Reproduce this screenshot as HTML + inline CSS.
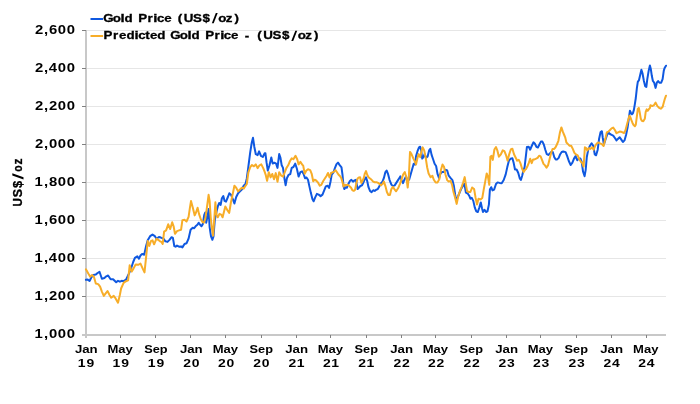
<!DOCTYPE html><html><head><meta charset="utf-8"><style>html,body{margin:0;padding:0;background:#fff;}svg{display:block;will-change:transform;}text{font-family:"Liberation Sans", sans-serif;font-weight:bold;}</style></head><body>
<svg width="700" height="404" viewBox="0 0 700 404">
<rect width="700" height="404" fill="#fff"/>
<rect x="87" y="30" width="579" height="1" fill="#e6e6e6"/>
<rect x="87" y="68" width="579" height="1" fill="#e6e6e6"/>
<rect x="87" y="106" width="579" height="1" fill="#e6e6e6"/>
<rect x="87" y="144" width="579" height="1" fill="#e6e6e6"/>
<rect x="87" y="182" width="579" height="1" fill="#e6e6e6"/>
<rect x="87" y="220" width="579" height="1" fill="#e6e6e6"/>
<rect x="87" y="258" width="579" height="1" fill="#e6e6e6"/>
<rect x="87" y="296" width="579" height="1" fill="#e6e6e6"/>
<rect x="85" y="30" width="2" height="306" fill="#c8c8c8"/>
<rect x="85" y="334" width="581" height="2" fill="#c8c8c8"/>
<rect x="82" y="30" width="4" height="1" fill="#808080"/>
<rect x="82" y="68" width="4" height="1" fill="#808080"/>
<rect x="82" y="106" width="4" height="1" fill="#808080"/>
<rect x="82" y="144" width="4" height="1" fill="#808080"/>
<rect x="82" y="182" width="4" height="1" fill="#808080"/>
<rect x="82" y="220" width="4" height="1" fill="#808080"/>
<rect x="82" y="258" width="4" height="1" fill="#808080"/>
<rect x="82" y="296" width="4" height="1" fill="#808080"/>
<rect x="82" y="334" width="3" height="2" fill="#c8c8c8"/>
<rect x="85" y="336" width="2" height="2" fill="#c8c8c8"/>
<rect x="120" y="335" width="1" height="3" fill="#808080"/>
<rect x="155" y="335" width="1" height="3" fill="#808080"/>
<rect x="190" y="335" width="1" height="3" fill="#808080"/>
<rect x="225" y="335" width="1" height="3" fill="#808080"/>
<rect x="261" y="335" width="1" height="3" fill="#808080"/>
<rect x="296" y="335" width="1" height="3" fill="#808080"/>
<rect x="330" y="335" width="1" height="3" fill="#808080"/>
<rect x="366" y="335" width="1" height="3" fill="#808080"/>
<rect x="401" y="335" width="1" height="3" fill="#808080"/>
<rect x="435" y="335" width="1" height="3" fill="#808080"/>
<rect x="471" y="335" width="1" height="3" fill="#808080"/>
<rect x="506" y="335" width="1" height="3" fill="#808080"/>
<rect x="540" y="335" width="1" height="3" fill="#808080"/>
<rect x="576" y="335" width="1" height="3" fill="#808080"/>
<rect x="611" y="335" width="1" height="3" fill="#808080"/>
<rect x="646" y="335" width="1" height="3" fill="#808080"/>
<path d="M85.9,279.8 L87.7,279.6 L89.6,281.0 L91.4,277.3 L93.3,274.9 L95.8,274.6 L97.6,273.0 L99.5,271.8 L101.9,278.8 L104.4,278.0 L106.3,276.3 L108.1,275.5 L110.6,279.2 L113.1,279.2 L116.2,282.3 L118.0,280.8 L119.9,281.7 L121.7,280.8 L123.6,281.2 L126.0,279.6 L128.4,274.8 L130.8,269.2 L133.2,262.0 L134.9,257.9 L137.3,256.3 L138.9,258.7 L140.5,255.5 L142.1,253.9 L144.2,254.7 L146.1,245.9 L147.7,240.3 L150.1,236.2 L152.5,234.6 L154.9,236.2 L156.5,238.7 L158.9,237.0 L160.0,237.2 L161.4,237.9 L163.4,238.5 L165.4,241.3 L167.5,241.9 L169.5,239.9 L171.6,237.2 L172.9,237.9 L174.3,246.0 L175.6,246.7 L177.0,245.6 L179.0,246.7 L181.1,246.4 L182.4,247.4 L184.5,244.0 L186.5,243.3 L188.6,238.5 L190.6,229.7 L192.7,227.7 L194.0,228.3 L195.6,226.3 L197.4,224.8 L198.7,222.7 L200.1,224.8 L201.5,226.2 L202.8,224.1 L204.2,215.2 L205.3,212.5 L206.2,222.7 L207.6,215.9 L208.6,209.1 L209.6,226.8 L211.0,236.4 L212.4,239.8 L213.5,236.4 L214.8,220.0 L216.5,211.8 L217.8,206.4 L219.2,203.0 L220.6,205.0 L221.9,198.2 L223.3,196.1 L224.6,200.9 L226.0,201.6 L227.9,197.0 L229.3,193.3 L231.2,195.1 L233.1,199.8 L234.4,203.5 L236.2,197.0 L238.1,193.3 L240.0,191.4 L241.8,189.5 L243.7,185.8 L245.5,184.0 L246.8,178.4 L248.3,167.2 L250.2,152.3 L251.7,143.0 L253.0,137.8 L254.3,146.7 L255.8,154.2 L257.6,155.1 L259.1,151.4 L261.0,156.0 L262.8,157.0 L264.7,153.3 L265.4,153.2 L266.6,162.7 L267.8,170.5 L269.5,165.3 L271.3,157.5 L272.7,163.6 L274.4,162.7 L276.1,163.6 L277.5,167.9 L279.2,154.0 L280.4,157.5 L281.7,165.3 L283.0,167.9 L284.4,178.3 L285.6,185.2 L286.9,178.3 L288.6,174.8 L290.3,174.0 L291.7,167.9 L293.4,167.0 L295.2,163.6 L296.9,168.8 L298.6,176.6 L300.4,172.2 L302.1,171.4 L303.5,173.8 L305.0,178.3 L306.5,177.5 L308.0,179.7 L309.4,186.4 L310.9,193.1 L312.4,199.1 L313.6,201.3 L315.1,197.6 L316.9,193.9 L318.7,194.6 L320.6,196.1 L322.5,194.6 L324.3,190.1 L325.8,186.4 L327.6,185.7 L329.1,187.9 L330.6,181.2 L331.7,174.5 L333.5,172.3 L335.0,167.8 L336.5,164.1 L338.0,162.6 L339.5,164.9 L341.5,167.4 L342.5,174.8 L343.5,186.0 L344.3,189.1 L345.6,187.2 L346.8,187.8 L348.0,184.7 L349.9,181.0 L351.4,179.8 L353.0,181.6 L354.6,180.4 L355.9,179.8 L356.7,184.1 L357.6,189.1 L358.8,187.8 L360.4,186.0 L362.0,185.3 L363.5,182.2 L364.8,179.1 L366.0,177.3 L367.2,181.0 L368.5,187.2 L370.0,190.9 L371.6,192.2 L373.2,190.3 L374.7,190.9 L376.2,189.7 L377.8,189.1 L379.5,186.1 L381.0,183.1 L382.5,181.6 L383.9,177.9 L385.4,172.0 L386.6,170.5 L388.1,174.2 L389.6,180.1 L391.4,184.6 L392.9,186.1 L394.7,185.4 L396.6,182.4 L398.5,179.4 L400.3,176.4 L401.5,180.1 L403.0,183.1 L404.5,179.4 L406.0,176.4 L407.4,180.9 L409.2,179.4 L410.7,174.2 L412.2,169.0 L413.7,163.8 L415.2,164.5 L416.0,156.4 L417.5,151.2 L419.0,147.4 L420.2,146.7 L421.2,150.4 L422.2,158.6 L423.4,157.1 L424.6,154.1 L426.1,157.8 L427.6,156.4 L429.1,150.4 L430.3,148.9 L431.6,154.9 L433.1,159.3 L434.6,163.8 L436.1,166.0 L437.6,174.2 L439.0,177.9 L440.5,173.5 L442.0,172.0 L444.0,172.0 L445.4,169.7 L447.2,170.5 L448.7,175.7 L450.5,177.9 L452.4,180.1 L453.9,186.1 L455.2,195.0 L456.2,200.1 L457.7,197.2 L459.2,193.5 L461.1,189.0 L462.9,186.0 L464.4,183.8 L465.9,192.7 L467.7,193.5 L469.2,195.7 L470.4,198.7 L471.8,197.9 L473.3,200.9 L474.8,207.6 L476.3,211.3 L477.8,212.0 L479.3,207.6 L480.8,202.4 L482.0,208.3 L483.0,212.0 L484.5,209.8 L486.0,212.0 L487.5,211.3 L488.9,204.6 L489.9,189.6 L491.2,187.2 L492.5,190.4 L494.1,189.6 L496.0,184.0 L497.6,182.4 L499.6,182.9 L501.7,183.2 L503.7,180.0 L505.7,174.4 L507.3,167.1 L508.9,160.7 L510.5,158.8 L512.4,158.3 L513.7,163.1 L515.0,169.5 L516.6,169.5 L518.2,172.8 L519.8,178.4 L520.9,180.0 L522.1,176.0 L523.3,171.1 L524.6,167.1 L525.9,155.9 L526.9,147.0 L528.7,146.8 L530.2,149.7 L531.7,146.0 L533.4,142.3 L534.9,143.8 L536.4,146.8 L537.9,147.5 L539.4,144.5 L540.9,141.6 L542.4,141.6 L543.8,144.5 L545.3,149.7 L546.8,154.2 L548.3,154.9 L549.8,153.5 L551.3,152.0 L552.8,152.0 L554.3,157.2 L555.7,159.4 L557.2,159.4 L558.7,157.9 L560.2,154.2 L561.7,152.0 L563.2,151.5 L565.6,152.1 L567.2,156.1 L568.8,161.0 L570.7,165.0 L572.4,162.6 L574.0,158.6 L575.6,156.1 L577.2,160.2 L578.8,158.6 L580.4,158.6 L581.7,161.8 L583.0,171.4 L584.6,176.2 L585.7,169.8 L586.8,157.0 L588.4,148.9 L590.0,145.7 L591.6,143.3 L593.2,145.7 L594.8,154.5 L596.1,155.3 L597.7,149.7 L599.0,139.3 L600.6,132.0 L601.9,131.2 L602.8,138.0 L603.9,144.4 L605.2,140.4 L606.8,135.6 L608.4,132.4 L610.0,134.0 L611.6,134.8 L613.2,135.6 L614.9,138.0 L616.5,140.4 L618.1,138.8 L619.7,137.2 L621.3,139.6 L622.9,142.0 L624.5,140.4 L626.1,134.8 L627.7,126.7 L628.9,117.8 L629.9,110.8 L630.9,112.8 L631.9,114.3 L632.9,113.3 L633.9,109.9 L634.9,103.9 L635.8,98.0 L636.9,87.9 L637.8,81.8 L639.0,80.1 L640.0,75.8 L641.4,69.7 L642.5,73.2 L643.9,81.0 L645.2,86.2 L646.3,87.0 L647.3,79.2 L648.7,70.6 L649.9,65.4 L650.8,68.9 L651.8,75.8 L652.9,81.0 L654.2,82.7 L655.6,87.9 L656.8,82.7 L658.1,81.0 L659.4,82.7 L661.2,82.7 L662.6,79.2 L663.8,70.6 L664.6,68.0 L666.0,65.7" fill="none" stroke="#0f58e0" stroke-width="2.0" stroke-linejoin="round" stroke-linecap="round"/>
<path d="M85.9,269.3 L88.3,273.6 L90.2,276.7 L92.0,275.1 L93.9,276.7 L95.8,283.5 L98.2,284.1 L100.1,286.6 L101.9,291.6 L103.8,295.9 L105.7,293.4 L107.5,291.0 L109.4,294.7 L111.2,297.7 L113.7,295.9 L115.6,298.4 L118.0,302.7 L119.9,294.7 L121.1,288.5 L123.6,282.8 L126.0,281.2 L128.1,280.4 L129.7,265.2 L131.6,271.6 L133.6,268.4 L135.7,264.4 L138.1,264.8 L140.5,263.6 L142.6,268.4 L144.5,272.4 L146.1,257.1 L147.7,241.1 L149.3,245.9 L150.9,241.1 L152.5,240.3 L154.1,244.3 L156.5,238.7 L158.9,240.3 L160.0,241.3 L161.4,241.9 L162.7,244.0 L164.1,231.7 L166.1,230.4 L168.2,224.3 L170.2,229.0 L172.2,222.2 L173.6,226.3 L175.0,233.8 L177.0,231.1 L179.0,230.4 L181.1,229.7 L182.4,220.2 L184.5,219.8 L186.5,221.5 L188.6,216.8 L189.9,207.9 L191.0,201.1 L192.7,207.2 L194.7,215.4 L196.0,212.5 L197.6,207.7 L199.0,213.9 L200.8,219.3 L202.5,222.1 L203.9,222.7 L205.3,218.6 L206.9,207.7 L208.6,194.8 L209.6,200.9 L210.7,217.3 L212.1,229.6 L213.1,235.7 L214.4,217.3 L215.4,202.3 L216.5,214.6 L217.8,217.3 L219.5,213.9 L221.2,214.6 L222.6,217.3 L224.0,211.8 L225.3,206.4 L227.4,210.3 L229.2,212.9 L230.9,202.5 L232.5,195.1 L234.4,185.8 L236.2,187.7 L238.1,191.4 L240.0,189.5 L241.8,187.7 L243.7,188.6 L245.5,185.8 L246.8,184.0 L248.3,172.8 L250.2,167.2 L252.0,165.0 L253.9,166.3 L255.8,164.4 L257.6,168.1 L259.5,165.3 L261.3,164.4 L263.2,168.1 L264.7,171.9 L265.7,174.8 L267.1,180.9 L268.8,172.2 L270.6,177.4 L272.3,174.0 L274.0,179.2 L275.8,173.1 L277.5,181.8 L279.2,172.2 L281.3,175.7 L283.0,176.6 L284.8,172.2 L286.5,167.9 L288.2,165.3 L290.0,161.0 L291.7,158.4 L293.4,159.2 L295.5,155.8 L297.2,159.2 L298.6,164.4 L300.4,161.8 L302.1,164.5 L303.2,165.6 L304.7,173.8 L306.2,170.8 L308.0,169.3 L310.2,170.1 L311.7,173.8 L313.2,181.2 L314.6,179.7 L316.1,180.5 L318.1,182.7 L319.8,185.7 L321.3,184.9 L323.1,181.2 L325.0,178.3 L326.5,176.0 L328.0,173.0 L329.5,177.5 L331.0,173.0 L332.5,172.3 L334.0,171.6 L335.5,170.1 L337.0,172.3 L338.4,174.5 L339.9,176.0 L341.2,177.9 L342.5,182.2 L343.5,186.6 L344.7,184.7 L346.2,185.3 L347.7,184.7 L349.3,186.0 L351.1,187.8 L352.4,190.3 L353.9,190.9 L355.1,189.7 L356.3,183.5 L357.6,178.5 L358.8,177.5 L360.1,177.3 L361.3,182.9 L362.5,181.0 L363.8,177.9 L364.8,173.6 L366.0,171.1 L367.2,174.8 L368.5,177.3 L370.0,178.5 L371.6,179.8 L373.2,181.6 L374.7,182.2 L376.5,182.2 L378.1,182.9 L379.5,183.9 L381.0,185.4 L382.5,183.9 L383.9,181.6 L385.4,186.1 L386.9,192.0 L388.4,195.0 L389.9,195.0 L391.4,189.1 L392.9,186.8 L394.4,189.1 L396.1,191.3 L398.1,188.3 L400.0,183.9 L401.5,179.4 L403.3,174.2 L404.8,172.0 L406.3,177.2 L407.7,187.6 L408.9,175.7 L410.0,151.9 L411.5,154.1 L413.4,158.6 L414.9,161.6 L416.0,164.5 L417.5,157.8 L418.7,154.1 L420.2,157.1 L421.7,150.4 L422.7,147.4 L424.2,150.4 L425.7,157.8 L427.2,167.5 L428.6,173.5 L430.6,177.2 L432.4,175.7 L433.8,179.8 L435.6,182.4 L437.6,182.4 L439.5,178.7 L441.0,169.7 L442.5,164.5 L444.0,166.8 L445.4,174.2 L447.2,180.1 L448.7,181.6 L450.5,180.9 L452.0,184.6 L453.5,192.0 L455.2,197.9 L456.7,203.9 L458.2,196.4 L459.9,191.2 L461.7,186.8 L463.2,182.3 L464.7,177.1 L465.9,184.5 L467.1,191.2 L468.6,192.0 L470.4,192.0 L472.1,187.5 L474.1,189.0 L475.6,197.9 L477.0,204.6 L478.5,198.7 L480.5,199.4 L482.3,197.9 L483.7,189.7 L485.2,181.6 L486.7,173.4 L487.9,176.4 L489.3,184.8 L490.4,156.7 L491.5,155.9 L492.8,159.9 L494.4,149.5 L496.0,147.0 L497.3,150.3 L498.9,156.7 L500.9,154.3 L502.8,150.3 L504.4,151.1 L506.0,155.1 L507.6,160.7 L509.2,154.3 L510.8,149.5 L512.4,148.7 L514.0,154.3 L515.6,157.5 L517.2,160.7 L518.8,159.9 L520.4,163.1 L522.1,168.7 L523.7,172.0 L525.3,169.5 L526.0,169.1 L527.2,166.8 L528.7,163.1 L530.2,158.7 L531.7,163.1 L533.1,159.4 L534.6,159.4 L536.1,158.7 L537.6,157.9 L539.1,155.7 L540.6,156.4 L542.1,160.1 L543.5,163.9 L545.0,165.4 L546.5,167.6 L548.0,165.4 L549.5,159.4 L551.0,153.5 L552.5,149.0 L554.0,149.0 L555.4,147.5 L556.9,144.5 L558.4,140.8 L559.9,132.6 L561.4,127.4 L562.9,131.9 L564.2,135.0 L565.3,137.7 L566.4,142.5 L568.0,144.1 L569.6,145.7 L571.2,145.7 L572.8,148.9 L574.4,152.9 L576.0,154.5 L577.7,155.3 L579.3,159.4 L580.9,161.8 L582.5,163.4 L583.6,166.6 L584.9,147.3 L586.2,148.1 L587.3,150.5 L588.9,148.1 L590.5,148.9 L592.1,147.3 L593.7,149.7 L595.3,145.7 L596.9,143.3 L598.5,142.5 L600.1,143.3 L601.8,144.1 L603.6,146.0 L605.2,139.6 L606.8,132.4 L608.4,131.6 L610.0,130.0 L611.6,128.4 L613.2,127.6 L614.9,130.0 L616.5,133.2 L618.1,132.4 L619.7,131.6 L622.0,132.1 L624.0,133.1 L625.4,130.6 L626.9,124.7 L628.4,119.3 L629.4,115.8 L630.4,117.3 L631.4,120.2 L632.4,122.7 L633.4,124.7 L634.9,126.2 L635.8,124.7 L636.8,116.8 L637.8,108.9 L638.8,107.9 L639.8,112.8 L640.8,118.8 L641.8,120.7 L643.3,121.2 L644.8,118.8 L645.7,111.8 L646.7,109.4 L647.7,110.8 L648.7,109.4 L650.0,107.9 L650.4,105.2 L652.2,106.1 L653.9,105.2 L655.6,102.6 L657.4,106.1 L659.1,107.8 L660.8,108.7 L662.6,107.0 L663.8,102.6 L665.0,98.3 L666.0,95.7" fill="none" stroke="#f7ad28" stroke-width="2.0" stroke-linejoin="round" stroke-linecap="round"/>
<rect x="90.5" y="18" width="12.6" height="2" fill="#0f58e0"/>
<rect x="90.5" y="35" width="12.6" height="2" fill="#f7ad28"/>
<text transform="translate(103.33,21.60) scale(1.1600,1)" font-size="11.5" fill="#000" stroke="#000" stroke-width="0.3">G</text>
<text transform="translate(112.80,21.60) scale(1.1600,1)" font-size="11.5" fill="#000" stroke="#000" stroke-width="0.3">o</text>
<text transform="translate(120.43,21.60) scale(1.3000,1)" font-size="11.5" fill="#000" stroke="#000" stroke-width="0.3">l</text>
<text transform="translate(124.59,21.60) scale(1.1600,1)" font-size="11.5" fill="#000" stroke="#000" stroke-width="0.3">d</text>
<text transform="translate(138.23,21.60) scale(1.1600,1)" font-size="11.5" fill="#000" stroke="#000" stroke-width="0.3">P</text>
<text transform="translate(147.62,21.60) scale(1.1600,1)" font-size="11.5" fill="#000" stroke="#000" stroke-width="0.3">r</text>
<text transform="translate(153.33,21.60) scale(1.3000,1)" font-size="11.5" fill="#000" stroke="#000" stroke-width="0.3">i</text>
<text transform="translate(156.97,21.60) scale(1.1600,1)" font-size="11.5" fill="#000" stroke="#000" stroke-width="0.3">c</text>
<text transform="translate(164.16,21.60) scale(1.1600,1)" font-size="11.5" fill="#000" stroke="#000" stroke-width="0.3">e</text>
<text transform="translate(177.65,21.60) scale(1.1600,1)" font-size="11.5" fill="#000" stroke="#000" stroke-width="0.3">(</text>
<text transform="translate(183.69,21.60) scale(1.1600,1)" font-size="11.5" fill="#000" stroke="#000" stroke-width="0.3">U</text>
<text transform="translate(193.12,21.60) scale(1.1600,1)" font-size="11.5" fill="#000" stroke="#000" stroke-width="0.3">S</text>
<text transform="translate(202.60,21.60) scale(1.1600,1)" font-size="11.5" fill="#000" stroke="#000" stroke-width="0.3">$</text>
<polygon points="211.80,23.30 213.70,23.30 217.70,12.90 215.80,12.90" fill="#000"/>
<text transform="translate(218.17,21.60) scale(1.1600,1)" font-size="11.5" fill="#000" stroke="#000" stroke-width="0.3">o</text>
<text transform="translate(225.79,21.60) scale(1.1600,1)" font-size="11.5" fill="#000" stroke="#000" stroke-width="0.3">z</text>
<text transform="translate(234.61,21.60) scale(1.1600,1)" font-size="11.5" fill="#000" stroke="#000" stroke-width="0.3">)</text>
<text transform="translate(103.58,39.40) scale(1.1600,1)" font-size="11.5" fill="#000" stroke="#000" stroke-width="0.3">P</text>
<text transform="translate(113.07,39.40) scale(1.1600,1)" font-size="11.5" fill="#000" stroke="#000" stroke-width="0.3">r</text>
<text transform="translate(119.01,39.40) scale(1.1600,1)" font-size="11.5" fill="#000" stroke="#000" stroke-width="0.3">e</text>
<text transform="translate(126.47,39.40) scale(1.1600,1)" font-size="11.5" fill="#000" stroke="#000" stroke-width="0.3">d</text>
<text transform="translate(134.55,39.40) scale(1.3000,1)" font-size="11.5" fill="#000" stroke="#000" stroke-width="0.3">i</text>
<text transform="translate(138.22,39.40) scale(1.1600,1)" font-size="11.5" fill="#000" stroke="#000" stroke-width="0.3">c</text>
<text transform="translate(145.15,39.40) scale(1.1600,1)" font-size="11.5" fill="#000" stroke="#000" stroke-width="0.3">t</text>
<text transform="translate(150.01,39.40) scale(1.1600,1)" font-size="11.5" fill="#000" stroke="#000" stroke-width="0.3">e</text>
<text transform="translate(157.22,39.40) scale(1.1600,1)" font-size="11.5" fill="#000" stroke="#000" stroke-width="0.3">d</text>
<text transform="translate(170.33,39.40) scale(1.1600,1)" font-size="11.5" fill="#000" stroke="#000" stroke-width="0.3">G</text>
<text transform="translate(179.80,39.40) scale(1.1600,1)" font-size="11.5" fill="#000" stroke="#000" stroke-width="0.3">o</text>
<text transform="translate(187.43,39.40) scale(1.3000,1)" font-size="11.5" fill="#000" stroke="#000" stroke-width="0.3">l</text>
<text transform="translate(191.59,39.40) scale(1.1600,1)" font-size="11.5" fill="#000" stroke="#000" stroke-width="0.3">d</text>
<text transform="translate(205.13,39.40) scale(1.1600,1)" font-size="11.5" fill="#000" stroke="#000" stroke-width="0.3">P</text>
<text transform="translate(214.52,39.40) scale(1.1600,1)" font-size="11.5" fill="#000" stroke="#000" stroke-width="0.3">r</text>
<text transform="translate(220.23,39.40) scale(1.3000,1)" font-size="11.5" fill="#000" stroke="#000" stroke-width="0.3">i</text>
<text transform="translate(223.87,39.40) scale(1.1600,1)" font-size="11.5" fill="#000" stroke="#000" stroke-width="0.3">c</text>
<text transform="translate(231.06,39.40) scale(1.1600,1)" font-size="11.5" fill="#000" stroke="#000" stroke-width="0.3">e</text>
<text transform="translate(244.74,39.40) scale(1.1600,1)" font-size="11.5" fill="#000" stroke="#000" stroke-width="0.3">-</text>
<text transform="translate(257.15,39.40) scale(1.1600,1)" font-size="11.5" fill="#000" stroke="#000" stroke-width="0.3">(</text>
<text transform="translate(263.19,39.40) scale(1.1600,1)" font-size="11.5" fill="#000" stroke="#000" stroke-width="0.3">U</text>
<text transform="translate(272.62,39.40) scale(1.1600,1)" font-size="11.5" fill="#000" stroke="#000" stroke-width="0.3">S</text>
<text transform="translate(282.10,39.40) scale(1.1600,1)" font-size="11.5" fill="#000" stroke="#000" stroke-width="0.3">$</text>
<polygon points="291.30,41.10 293.20,41.10 297.20,30.70 295.30,30.70" fill="#000"/>
<text transform="translate(297.67,39.40) scale(1.1600,1)" font-size="11.5" fill="#000" stroke="#000" stroke-width="0.3">o</text>
<text transform="translate(305.29,39.40) scale(1.1600,1)" font-size="11.5" fill="#000" stroke="#000" stroke-width="0.3">z</text>
<text transform="translate(314.11,39.40) scale(1.1600,1)" font-size="11.5" fill="#000" stroke="#000" stroke-width="0.3">)</text>
<text transform="translate(34.90,33.92) scale(1.2200,1)" font-size="12.2" fill="#000">2</text>
<text transform="translate(44.02,33.92) scale(1.2200,1)" font-size="12.2" fill="#000">,</text>
<text transform="translate(48.90,33.92) scale(1.2200,1)" font-size="12.2" fill="#000">6</text>
<text transform="translate(57.77,33.92) scale(1.2200,1)" font-size="12.2" fill="#000">0</text>
<text transform="translate(66.67,33.92) scale(1.2200,1)" font-size="12.2" fill="#000">0</text>
<text transform="translate(34.90,71.98) scale(1.2200,1)" font-size="12.2" fill="#000">2</text>
<text transform="translate(44.02,71.98) scale(1.2200,1)" font-size="12.2" fill="#000">,</text>
<text transform="translate(48.84,71.98) scale(1.2200,1)" font-size="12.2" fill="#000">4</text>
<text transform="translate(57.77,71.98) scale(1.2200,1)" font-size="12.2" fill="#000">0</text>
<text transform="translate(66.67,71.98) scale(1.2200,1)" font-size="12.2" fill="#000">0</text>
<text transform="translate(34.90,110.04) scale(1.2200,1)" font-size="12.2" fill="#000">2</text>
<text transform="translate(44.02,110.04) scale(1.2200,1)" font-size="12.2" fill="#000">,</text>
<text transform="translate(48.95,110.04) scale(1.2200,1)" font-size="12.2" fill="#000">2</text>
<text transform="translate(57.77,110.04) scale(1.2200,1)" font-size="12.2" fill="#000">0</text>
<text transform="translate(66.67,110.04) scale(1.2200,1)" font-size="12.2" fill="#000">0</text>
<text transform="translate(34.90,148.10) scale(1.2200,1)" font-size="12.2" fill="#000">2</text>
<text transform="translate(44.02,148.10) scale(1.2200,1)" font-size="12.2" fill="#000">,</text>
<text transform="translate(48.92,148.10) scale(1.2200,1)" font-size="12.2" fill="#000">0</text>
<text transform="translate(57.77,148.10) scale(1.2200,1)" font-size="12.2" fill="#000">0</text>
<text transform="translate(66.67,148.10) scale(1.2200,1)" font-size="12.2" fill="#000">0</text>
<text transform="translate(34.60,186.16) scale(1.2200,1)" font-size="12.2" fill="#000">1</text>
<text transform="translate(44.02,186.16) scale(1.2200,1)" font-size="12.2" fill="#000">,</text>
<text transform="translate(48.90,186.16) scale(1.2200,1)" font-size="12.2" fill="#000">8</text>
<text transform="translate(57.77,186.16) scale(1.2200,1)" font-size="12.2" fill="#000">0</text>
<text transform="translate(66.67,186.16) scale(1.2200,1)" font-size="12.2" fill="#000">0</text>
<text transform="translate(34.60,224.22) scale(1.2200,1)" font-size="12.2" fill="#000">1</text>
<text transform="translate(44.02,224.22) scale(1.2200,1)" font-size="12.2" fill="#000">,</text>
<text transform="translate(48.90,224.22) scale(1.2200,1)" font-size="12.2" fill="#000">6</text>
<text transform="translate(57.77,224.22) scale(1.2200,1)" font-size="12.2" fill="#000">0</text>
<text transform="translate(66.67,224.22) scale(1.2200,1)" font-size="12.2" fill="#000">0</text>
<text transform="translate(34.60,262.28) scale(1.2200,1)" font-size="12.2" fill="#000">1</text>
<text transform="translate(44.02,262.28) scale(1.2200,1)" font-size="12.2" fill="#000">,</text>
<text transform="translate(48.84,262.28) scale(1.2200,1)" font-size="12.2" fill="#000">4</text>
<text transform="translate(57.77,262.28) scale(1.2200,1)" font-size="12.2" fill="#000">0</text>
<text transform="translate(66.67,262.28) scale(1.2200,1)" font-size="12.2" fill="#000">0</text>
<text transform="translate(34.60,300.34) scale(1.2200,1)" font-size="12.2" fill="#000">1</text>
<text transform="translate(44.02,300.34) scale(1.2200,1)" font-size="12.2" fill="#000">,</text>
<text transform="translate(48.95,300.34) scale(1.2200,1)" font-size="12.2" fill="#000">2</text>
<text transform="translate(57.77,300.34) scale(1.2200,1)" font-size="12.2" fill="#000">0</text>
<text transform="translate(66.67,300.34) scale(1.2200,1)" font-size="12.2" fill="#000">0</text>
<text transform="translate(34.60,338.40) scale(1.2200,1)" font-size="12.2" fill="#000">1</text>
<text transform="translate(44.02,338.40) scale(1.2200,1)" font-size="12.2" fill="#000">,</text>
<text transform="translate(48.92,338.40) scale(1.2200,1)" font-size="12.2" fill="#000">0</text>
<text transform="translate(57.77,338.40) scale(1.2200,1)" font-size="12.2" fill="#000">0</text>
<text transform="translate(66.67,338.40) scale(1.2200,1)" font-size="12.2" fill="#000">0</text>
<polygon points="12.3,173.3 12.3,175.4 23.5,179.4 23.5,177.3" fill="#000"/>
<text transform="translate(22.10,206.50) rotate(-90) scale(0.9244,1)" font-size="12.6" fill="#000" stroke="#000" stroke-width="0.3">U</text>
<text transform="translate(22.10,197.16) rotate(-90) scale(0.9805,1)" font-size="12.6" fill="#000" stroke="#000" stroke-width="0.3">S</text>
<text transform="translate(22.10,187.97) rotate(-90) scale(1.0202,1)" font-size="12.6" fill="#000" stroke="#000" stroke-width="0.3">$</text>
<text transform="translate(22.10,171.70) rotate(-90) scale(0.8190,1)" font-size="12.6" fill="#000" stroke="#000" stroke-width="0.3">o</text>
<text transform="translate(22.10,164.48) rotate(-90) scale(0.9546,1)" font-size="12.6" fill="#000" stroke="#000" stroke-width="0.3">z</text>
<text transform="translate(74.88,353.20) scale(1.1417,1)" font-size="11.6" fill="#000">Jan</text>
<text transform="translate(77.87,367.20) scale(1.2000,1)" font-size="11.6" fill="#000">1</text>
<text transform="translate(86.62,367.20) scale(1.2000,1)" font-size="11.6" fill="#000">9</text>
<text transform="translate(107.43,353.20) scale(1.1230,1)" font-size="11.6" fill="#000">May</text>
<text transform="translate(112.39,367.20) scale(1.2000,1)" font-size="11.6" fill="#000">1</text>
<text transform="translate(121.15,367.20) scale(1.2000,1)" font-size="11.6" fill="#000">9</text>
<text transform="translate(144.27,353.20) scale(1.0996,1)" font-size="11.6" fill="#000">Sep</text>
<text transform="translate(147.78,367.20) scale(1.2000,1)" font-size="11.6" fill="#000">1</text>
<text transform="translate(156.54,367.20) scale(1.2000,1)" font-size="11.6" fill="#000">9</text>
<text transform="translate(179.89,353.20) scale(1.1417,1)" font-size="11.6" fill="#000">Jan</text>
<text transform="translate(183.16,367.20) scale(1.2000,1)" font-size="11.6" fill="#000">2</text>
<text transform="translate(191.63,367.20) scale(1.2000,1)" font-size="11.6" fill="#000">0</text>
<text transform="translate(212.73,353.20) scale(1.1230,1)" font-size="11.6" fill="#000">May</text>
<text transform="translate(217.97,367.20) scale(1.2000,1)" font-size="11.6" fill="#000">2</text>
<text transform="translate(226.44,367.20) scale(1.2000,1)" font-size="11.6" fill="#000">0</text>
<text transform="translate(249.57,353.20) scale(1.0996,1)" font-size="11.6" fill="#000">Sep</text>
<text transform="translate(253.35,367.20) scale(1.2000,1)" font-size="11.6" fill="#000">2</text>
<text transform="translate(261.83,367.20) scale(1.2000,1)" font-size="11.6" fill="#000">0</text>
<text transform="translate(285.19,353.20) scale(1.1417,1)" font-size="11.6" fill="#000">Jan</text>
<text transform="translate(288.45,367.20) scale(1.2000,1)" font-size="11.6" fill="#000">2</text>
<text transform="translate(296.68,367.20) scale(1.2000,1)" font-size="11.6" fill="#000">1</text>
<text transform="translate(317.74,353.20) scale(1.1230,1)" font-size="11.6" fill="#000">May</text>
<text transform="translate(322.98,367.20) scale(1.2000,1)" font-size="11.6" fill="#000">2</text>
<text transform="translate(331.20,367.20) scale(1.2000,1)" font-size="11.6" fill="#000">1</text>
<text transform="translate(354.58,353.20) scale(1.0996,1)" font-size="11.6" fill="#000">Sep</text>
<text transform="translate(358.36,367.20) scale(1.2000,1)" font-size="11.6" fill="#000">2</text>
<text transform="translate(366.59,367.20) scale(1.2000,1)" font-size="11.6" fill="#000">1</text>
<text transform="translate(390.20,353.20) scale(1.1417,1)" font-size="11.6" fill="#000">Jan</text>
<text transform="translate(393.46,367.20) scale(1.2000,1)" font-size="11.6" fill="#000">2</text>
<text transform="translate(401.96,367.20) scale(1.2000,1)" font-size="11.6" fill="#000">2</text>
<text transform="translate(422.75,353.20) scale(1.1230,1)" font-size="11.6" fill="#000">May</text>
<text transform="translate(427.99,367.20) scale(1.2000,1)" font-size="11.6" fill="#000">2</text>
<text transform="translate(436.49,367.20) scale(1.2000,1)" font-size="11.6" fill="#000">2</text>
<text transform="translate(459.59,353.20) scale(1.0996,1)" font-size="11.6" fill="#000">Sep</text>
<text transform="translate(463.38,367.20) scale(1.2000,1)" font-size="11.6" fill="#000">2</text>
<text transform="translate(471.88,367.20) scale(1.2000,1)" font-size="11.6" fill="#000">2</text>
<text transform="translate(495.21,353.20) scale(1.1417,1)" font-size="11.6" fill="#000">Jan</text>
<text transform="translate(498.47,367.20) scale(1.2000,1)" font-size="11.6" fill="#000">2</text>
<text transform="translate(507.03,367.20) scale(1.2000,1)" font-size="11.6" fill="#000">3</text>
<text transform="translate(527.76,353.20) scale(1.1230,1)" font-size="11.6" fill="#000">May</text>
<text transform="translate(533.00,367.20) scale(1.2000,1)" font-size="11.6" fill="#000">2</text>
<text transform="translate(541.55,367.20) scale(1.2000,1)" font-size="11.6" fill="#000">3</text>
<text transform="translate(564.60,353.20) scale(1.0996,1)" font-size="11.6" fill="#000">Sep</text>
<text transform="translate(568.39,367.20) scale(1.2000,1)" font-size="11.6" fill="#000">2</text>
<text transform="translate(576.94,367.20) scale(1.2000,1)" font-size="11.6" fill="#000">3</text>
<text transform="translate(600.22,353.20) scale(1.1417,1)" font-size="11.6" fill="#000">Jan</text>
<text transform="translate(603.49,367.20) scale(1.2000,1)" font-size="11.6" fill="#000">2</text>
<text transform="translate(611.88,367.20) scale(1.2000,1)" font-size="11.6" fill="#000">4</text>
<text transform="translate(633.06,353.20) scale(1.1230,1)" font-size="11.6" fill="#000">May</text>
<text transform="translate(638.30,367.20) scale(1.2000,1)" font-size="11.6" fill="#000">2</text>
<text transform="translate(646.69,367.20) scale(1.2000,1)" font-size="11.6" fill="#000">4</text>
</svg></body></html>
